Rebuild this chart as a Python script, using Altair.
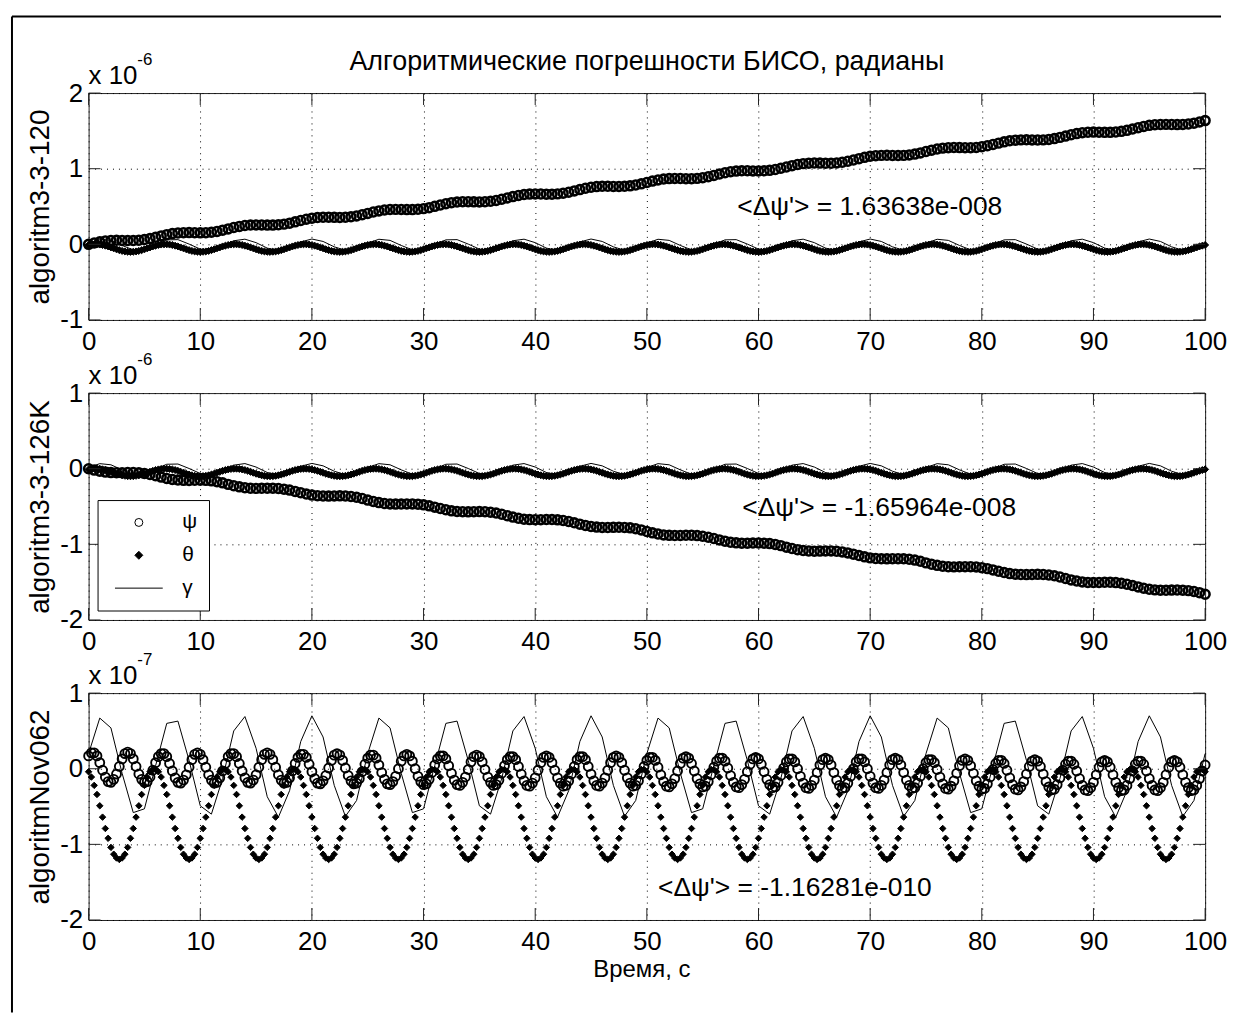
import altair as alt
import numpy as np
import pandas as pd

FONT = "Liberation Sans"
W, H, GAP = 1122, 228, 73.5

SERIES = ["ψ", "θ", "γ"]
TITLE = "Алгоритмические погрешности БИСО, радианы"
XTITLE = "Время,  с"
YTITLES = ["algoritm3-3-120", "algoritm3-3-126K", "algoritmNov062"]
EXPONENTS = ["-6", "-6", "-7"]
ANNOTS = ["<Δψ'> = 1.63638e-008", "<Δψ'> = -1.65964e-008", "<Δψ'> = -1.16281e-010"]
ANNOT_T = [58.1, 58.55, 51.0]
ANNOT_V = [0.385, -0.62, -1.68]
X_TICKS = [0, 10, 20, 30, 40, 50, 60, 70, 80, 90, 100]
Y_TICKS = [[-1, 0, 1, 2], [-2, -1, 0, 1], [-2, -1, 0, 1]]
UNIT = [1000, 1000, 100]          # values below are in 1e-9 rad; axis units 1e-6, 1e-6, 1e-7
STEP_PSI = [0.5, 0.5, 0.25]       # sampling step of psi markers, s
STEP_THETA = 0.25                 # theta markers, s
STEP_GAMMA = 1.0                  # gamma line, s
PSI_STROKE = [2.6, 2.6, 1.9]
THETA_SIZE = [50, 50, 42]

# ---------------- panel 1 : algoritm3-3-120 (1e-9 rad) ----------------
PSI_1 = [
    0, 18, 33, 45, 51, 53, 52, 50, 50, 54, 63, 76, 93, 111, 128, 142, 150, 154, 155, 153, 152, 154, 160, 171, 187,
    204, 222, 237, 249, 255, 257, 256, 254, 254, 258, 267, 280, 297, 315, 332, 346, 354, 358, 359, 357, 356, 358, 364, 375, 391,
    409, 427, 442, 454, 460, 462, 461, 459, 459, 463, 472, 485, 502, 520, 537, 551, 559, 563, 564, 562, 561, 563, 569, 580, 596,
    613, 631, 646, 658, 664, 666, 665, 663, 663, 667, 676, 689, 706, 724, 741, 755, 763, 767, 768, 766, 765, 767, 773, 784, 800,
    818, 836, 851, 863, 869, 871, 870, 868, 868, 872, 881, 894, 911, 929, 946, 960, 968, 972, 973, 971, 970, 972, 978, 989, 1005,
    1022, 1040, 1055, 1067, 1073, 1075, 1074, 1072, 1072, 1076, 1085, 1098, 1115, 1133, 1150, 1164, 1172, 1176, 1177, 1175, 1174, 1176, 1182, 1193, 1209,
    1227, 1245, 1260, 1272, 1278, 1280, 1279, 1277, 1277, 1281, 1290, 1303, 1320, 1338, 1355, 1369, 1377, 1381, 1382, 1380, 1379, 1381, 1387, 1398, 1414,
    1431, 1449, 1464, 1476, 1482, 1484, 1483, 1481, 1481, 1485, 1494, 1507, 1524, 1542, 1559, 1573, 1581, 1585, 1586, 1584, 1583, 1585, 1591, 1602, 1618,
    1636,
]
THETA_1 = [
    -9, -3, 0, 0, -3, -9, -18, -28, -41, -53, -66, -77, -87, -94, -98, -100, -98, -94, -87, -77, -66, -53, -41, -28, -18,
    -9, -3, 0, 0, -3, -9, -18, -28, -41, -53, -66, -77, -87, -94, -98, -100, -98, -94, -87, -77, -66, -53, -41, -28, -18,
    -9, -3, 0, 0, -3, -9, -18, -28, -41, -53, -66, -77, -87, -94, -98, -100, -98, -94, -87, -77, -66, -53, -41, -28, -18,
    -9, -3, 0, 0, -3, -9, -18, -28, -41, -53, -66, -77, -87, -94, -98, -100, -98, -94, -87, -77, -66, -53, -41, -28, -18,
    -9, -3, 0, 0, -3, -9, -18, -28, -41, -53, -66, -77, -87, -94, -98, -100, -98, -94, -87, -77, -66, -53, -41, -28, -18,
    -9, -3, 0, 0, -3, -9, -18, -28, -41, -53, -66, -77, -87, -94, -98, -100, -98, -94, -87, -77, -66, -53, -41, -28, -18,
    -9, -3, 0, 0, -3, -9, -18, -28, -41, -53, -66, -77, -87, -94, -98, -100, -98, -94, -87, -77, -66, -53, -41, -28, -18,
    -9, -3, 0, 0, -3, -9, -18, -28, -41, -53, -66, -77, -87, -94, -98, -100, -98, -94, -87, -77, -66, -53, -41, -28, -18,
    -9, -3, 0, 0, -3, -9, -18, -28, -41, -53, -66, -77, -87, -94, -98, -100, -98, -94, -87, -77, -66, -53, -41, -28, -18,
    -9, -3, 0, 0, -3, -9, -18, -28, -41, -53, -66, -77, -87, -94, -98, -100, -98, -94, -87, -77, -66, -53, -41, -28, -18,
    -9, -3, 0, 0, -3, -9, -18, -28, -41, -53, -66, -77, -87, -94, -98, -100, -98, -94, -87, -77, -66, -53, -41, -28, -18,
    -9, -3, 0, 0, -3, -9, -18, -28, -41, -53, -66, -77, -87, -94, -98, -100, -98, -94, -87, -77, -66, -53, -41, -28, -18,
    -9, -3, 0, 0, -3, -9, -18, -28, -41, -53, -66, -77, -87, -94, -98, -100, -98, -94, -87, -77, -66, -53, -41, -28, -18,
    -9, -3, 0, 0, -3, -9, -18, -28, -41, -53, -66, -77, -87, -94, -98, -100, -98, -94, -87, -77, -66, -53, -41, -28, -18,
    -9, -3, 0, 0, -3, -9, -18, -28, -41, -53, -66, -77, -87, -94, -98, -100, -98, -94, -87, -77, -66, -53, -41, -28, -18,
    -9, -3, 0, 0, -3, -9, -18, -28, -41, -53, -66, -77, -87, -94, -98, -100, -98, -94, -87, -77, -66, -53, -41, -28, -18,
    -9,
]
GAMMA_1 = [
    15, 67, 52, -15, -73, -68, -4, 59, 62, 3, -63, -76, -23, 47, 68, 22, -50, -80, -40, 32, 70, 38, -33, -79, -56,
    15, 67, 52, -15, -73, -68, -4, 59, 62, 3, -63, -76, -23, 47, 68, 22, -50, -80, -40, 32, 70, 38, -33, -79, -56,
    15, 67, 52, -15, -73, -68, -4, 59, 62, 3, -63, -76, -23, 47, 68, 22, -50, -80, -40, 32, 70, 38, -33, -79, -56,
    15, 67, 52, -15, -73, -68, -4, 59, 62, 3, -63, -76, -23, 47, 68, 22, -50, -80, -40, 32, 70, 38, -33, -79, -56,
    15,
]

# ---------------- panel 2 : algoritm3-3-126K (1e-9 rad) ----------------
PSI_2 = [
    0, -18, -33, -45, -51, -53, -52, -50, -50, -54, -63, -76, -93, -111, -128, -142, -150, -154, -155, -153, -152, -154, -160, -171, -187,
    -207, -225, -240, -252, -258, -260, -259, -257, -257, -261, -270, -283, -300, -318, -335, -349, -357, -361, -362, -360, -359, -361, -367, -378, -394,
    -415, -433, -448, -460, -466, -468, -467, -465, -465, -469, -478, -491, -508, -526, -543, -557, -565, -569, -570, -568, -567, -569, -575, -586, -602,
    -622, -640, -655, -667, -673, -675, -674, -672, -672, -676, -685, -698, -715, -733, -750, -764, -772, -776, -777, -775, -774, -776, -782, -793, -809,
    -830, -848, -863, -875, -881, -883, -882, -880, -880, -884, -893, -906, -923, -941, -958, -972, -980, -984, -985, -983, -982, -984, -990, -1001, -1017,
    -1037, -1055, -1070, -1082, -1088, -1090, -1089, -1087, -1087, -1091, -1100, -1113, -1130, -1148, -1165, -1179, -1187, -1191, -1192, -1190, -1189, -1191, -1197, -1208, -1224,
    -1245, -1263, -1278, -1290, -1296, -1298, -1297, -1295, -1295, -1299, -1308, -1321, -1338, -1356, -1373, -1387, -1395, -1399, -1400, -1398, -1397, -1399, -1405, -1416, -1432,
    -1452, -1470, -1485, -1497, -1503, -1505, -1504, -1502, -1502, -1506, -1515, -1528, -1545, -1563, -1580, -1594, -1602, -1606, -1607, -1605, -1604, -1606, -1612, -1623, -1639,
    -1660,
]
THETA_2 = THETA_1      # the theta trace of panel 2 reads the same as in panel 1
GAMMA_2 = GAMMA_1      # the gamma trace of panel 2 reads the same as in panel 1

# ---------------- panel 3 : algoritmNov062 (1e-9 rad) ----------------
PSI_3 = [
    17, 21, 21, 17, 8, -2, -11, -17, -18, -14, -7, 3, 13, 20, 22, 20, 13, 3, -7, -14, -18, -17, -11, -2, 8,
    16, 20, 20, 16, 7, -3, -12, -18, -19, -15, -8, 2, 12, 19, 21, 19, 12, 2, -8, -15, -19, -18, -12, -3, 7,
    16, 20, 20, 16, 7, -3, -12, -18, -19, -15, -8, 2, 12, 19, 21, 19, 12, 2, -8, -15, -19, -18, -12, -3, 7,
    15, 19, 19, 15, 6, -4, -13, -19, -20, -16, -9, 1, 11, 18, 20, 18, 11, 1, -9, -16, -20, -19, -13, -4, 6,
    14, 18, 18, 14, 5, -5, -14, -20, -21, -17, -10, 0, 10, 17, 19, 17, 10, 0, -10, -17, -21, -20, -14, -5, 5,
    13, 17, 17, 13, 4, -6, -15, -21, -22, -18, -11, -1, 9, 16, 18, 16, 9, -1, -11, -18, -22, -21, -15, -6, 4,
    12, 16, 16, 12, 3, -7, -16, -22, -23, -19, -12, -2, 8, 15, 17, 15, 8, -2, -12, -19, -23, -22, -16, -7, 3,
    12, 16, 16, 12, 3, -7, -16, -22, -23, -19, -12, -2, 8, 15, 17, 15, 8, -2, -12, -19, -23, -22, -16, -7, 3,
    11, 15, 15, 11, 2, -8, -17, -23, -24, -20, -13, -3, 7, 14, 16, 14, 7, -3, -13, -20, -24, -23, -17, -8, 2,
    10, 14, 14, 10, 1, -9, -18, -24, -25, -21, -14, -4, 6, 13, 15, 13, 6, -4, -14, -21, -25, -24, -18, -9, 1,
    9, 13, 13, 9, 0, -10, -19, -25, -26, -22, -15, -5, 5, 12, 14, 12, 5, -5, -15, -22, -26, -25, -19, -10, 0,
    9, 13, 13, 9, 0, -10, -19, -25, -26, -22, -15, -5, 5, 12, 14, 12, 5, -5, -15, -22, -26, -25, -19, -10, 0,
    8, 12, 12, 8, -1, -11, -20, -26, -27, -23, -16, -6, 4, 11, 13, 11, 4, -6, -16, -23, -27, -26, -20, -11, -1,
    7, 11, 11, 7, -2, -12, -21, -27, -28, -24, -17, -7, 3, 10, 12, 10, 3, -7, -17, -24, -28, -27, -21, -12, -2,
    6, 10, 10, 6, -3, -13, -22, -28, -29, -25, -18, -8, 2, 9, 11, 9, 2, -8, -18, -25, -29, -28, -22, -13, -3,
    6, 10, 10, 6, -3, -13, -22, -28, -29, -25, -18, -8, 2, 9, 11, 9, 2, -8, -18, -25, -29, -28, -22, -13, -3,
    5,
]
THETA_3 = [
    -4, -11, -22, -34, -49, -64, -79, -92, -104, -113, -118, -120, -118, -113, -104, -92, -79, -64, -49, -34, -22, -11, -4, -1, -1,
    -4, -11, -22, -34, -49, -64, -79, -92, -104, -113, -118, -120, -118, -113, -104, -92, -79, -64, -49, -34, -22, -11, -4, -1, -1,
    -4, -11, -22, -34, -49, -64, -79, -92, -104, -113, -118, -120, -118, -113, -104, -92, -79, -64, -49, -34, -22, -11, -4, -1, -1,
    -4, -11, -22, -34, -49, -64, -79, -92, -104, -113, -118, -120, -118, -113, -104, -92, -79, -64, -49, -34, -22, -11, -4, -1, -1,
    -4, -11, -22, -34, -49, -64, -79, -92, -104, -113, -118, -120, -118, -113, -104, -92, -79, -64, -49, -34, -22, -11, -4, -1, -1,
    -4, -11, -22, -34, -49, -64, -79, -92, -104, -113, -118, -120, -118, -113, -104, -92, -79, -64, -49, -34, -22, -11, -4, -1, -1,
    -4, -11, -22, -34, -49, -64, -79, -92, -104, -113, -118, -120, -118, -113, -104, -92, -79, -64, -49, -34, -22, -11, -4, -1, -1,
    -4, -11, -22, -34, -49, -64, -79, -92, -104, -113, -118, -120, -118, -113, -104, -92, -79, -64, -49, -34, -22, -11, -4, -1, -1,
    -4, -11, -22, -34, -49, -64, -79, -92, -104, -113, -118, -120, -118, -113, -104, -92, -79, -64, -49, -34, -22, -11, -4, -1, -1,
    -4, -11, -22, -34, -49, -64, -79, -92, -104, -113, -118, -120, -118, -113, -104, -92, -79, -64, -49, -34, -22, -11, -4, -1, -1,
    -4, -11, -22, -34, -49, -64, -79, -92, -104, -113, -118, -120, -118, -113, -104, -92, -79, -64, -49, -34, -22, -11, -4, -1, -1,
    -4, -11, -22, -34, -49, -64, -79, -92, -104, -113, -118, -120, -118, -113, -104, -92, -79, -64, -49, -34, -22, -11, -4, -1, -1,
    -4, -11, -22, -34, -49, -64, -79, -92, -104, -113, -118, -120, -118, -113, -104, -92, -79, -64, -49, -34, -22, -11, -4, -1, -1,
    -4, -11, -22, -34, -49, -64, -79, -92, -104, -113, -118, -120, -118, -113, -104, -92, -79, -64, -49, -34, -22, -11, -4, -1, -1,
    -4, -11, -22, -34, -49, -64, -79, -92, -104, -113, -118, -120, -118, -113, -104, -92, -79, -64, -49, -34, -22, -11, -4, -1, -1,
    -4, -11, -22, -34, -49, -64, -79, -92, -104, -113, -118, -120, -118, -113, -104, -92, -79, -64, -49, -34, -22, -11, -4, -1, -1,
    -4,
]
GAMMA_3 = [
    20, 67, 54, -6, -58, -53, 4, 60, 63, 11, -49, -60, -13, 50, 69, 27, -37, -64, -29, 36, 70, 42, -22, -63, -42,
    20, 67, 54, -6, -58, -53, 4, 60, 63, 11, -49, -60, -13, 50, 69, 27, -37, -64, -29, 36, 70, 42, -22, -63, -42,
    20, 67, 54, -6, -58, -53, 4, 60, 63, 11, -49, -60, -13, 50, 69, 27, -37, -64, -29, 36, 70, 42, -22, -63, -42,
    20, 67, 54, -6, -58, -53, 4, 60, 63, 11, -49, -60, -13, 50, 69, 27, -37, -64, -29, 36, 70, 42, -22, -63, -42,
    20,
]

DATA = [(PSI_1, THETA_1, GAMMA_1), (PSI_2, THETA_2, GAMMA_2), (PSI_3, THETA_3, GAMMA_3)]

shape_sc = alt.Scale(domain=SERIES, range=["circle", "diamond", "M-6,0H6"])
fill_sc = alt.Scale(domain=SERIES, range=["transparent", "black", "transparent"])
stroke_sc = alt.Scale(domain=SERIES, range=["black", "black", "black"])


def frame(values, step, name, unit):
    return pd.DataFrame({
        "t": np.arange(len(values)) * step,
        "v": np.array(values, dtype=float) / unit,
        "s": name,
    })


def panel(i):
    psi, theta, gamma = DATA[i]
    u = UNIT[i]
    d_psi = frame(psi, STEP_PSI[i], SERIES[0], u)
    d_th = frame(theta, STEP_THETA, SERIES[1], u)
    d_ga = frame(gamma, STEP_GAMMA, SERIES[2], u)

    xs = alt.Scale(domain=[0, 100], nice=False, zero=False)
    ys = alt.Scale(domain=[Y_TICKS[i][0], Y_TICKS[i][-1]], nice=False, zero=False)
    common = dict(grid=True, gridColor="#000", gridDash=[1, 5], gridOpacity=1, gridWidth=1,
                  domain=False, ticks=False, labelFont=FONT, labelFontSize=26, labelColor="#000",
                  labelFlush=False, labelOverlap=False, labelExpr="datum.value")
    xaxis = alt.Axis(values=X_TICKS, labelPadding=9, title=None, **common)
    yaxis = alt.Axis(values=Y_TICKS[i], labelPadding=6, title=YTITLES[i], titleFont=FONT,
                     titleFontSize=28, titleFontWeight="normal", titleColor="#000",
                     titlePadding=5, **common)
    X = alt.X("t:Q", scale=xs, axis=xaxis)
    Y = alt.Y("v:Q", scale=ys, axis=yaxis)

    if i == 1:
        leg = alt.Legend(title=None, orient="none", legendX=9, legendY=107.5,
                         fillColor="white", strokeColor="black", padding=12,
                         symbolOffset=19, labelOffset=33, rowPadding=11,
                         labelFont=FONT, labelFontSize=21, labelColor="black",
                         symbolSize=64, symbolStrokeWidth=1,
                         labelExpr="datum.label + '\u00a0\u00a0\u00a0'")
    else:
        leg = None

    enc = dict(
        shape=alt.Shape("s:N", scale=shape_sc, legend=leg),
        fill=alt.Fill("s:N", scale=fill_sc, legend=leg),
        stroke=alt.Stroke("s:N", scale=stroke_sc, legend=leg),
    )
    l_psi = alt.Chart(d_psi).mark_point(size=80, strokeWidth=PSI_STROKE[i], opacity=1).encode(x=X, y=Y, **enc)
    l_th = alt.Chart(d_th).mark_point(size=THETA_SIZE[i], strokeWidth=1, opacity=1).encode(x=X, y=Y, **enc)
    l_ga = alt.Chart(d_ga).mark_line(strokeWidth=1).encode(
        x=X, y=Y, stroke=alt.Stroke("s:N", scale=stroke_sc, legend=leg))

    d_xt = pd.DataFrame({"t": X_TICKS})
    d_yt = pd.DataFrame({"v": Y_TICKS[i]})
    rule = dict(color="#222", strokeWidth=1)
    tx1 = alt.Chart(d_xt).mark_rule(**rule).encode(x=X, y=alt.value(0), y2=alt.value(12))
    tx2 = alt.Chart(d_xt).mark_rule(**rule).encode(x=X, y=alt.value(H - 12), y2=alt.value(H))
    ty1 = alt.Chart(d_yt).mark_rule(**rule).encode(y=Y, x=alt.value(0), x2=alt.value(12))
    ty2 = alt.Chart(d_yt).mark_rule(**rule).encode(y=Y, x=alt.value(W - 12), x2=alt.value(W))

    one = pd.DataFrame({"k": [0]})
    e1 = alt.Chart(one).mark_text(text="x 10", align="left", baseline="alphabetic", font=FONT,
                                  fontSize=26, color="black").encode(x=alt.value(0), y=alt.value(-9))
    e2 = alt.Chart(one).mark_text(text=EXPONENTS[i], align="left", baseline="alphabetic", font=FONT,
                                  fontSize=17, color="black").encode(x=alt.value(49), y=alt.value(-28))
    d_ann = pd.DataFrame({"t": [ANNOT_T[i]], "v": [ANNOT_V[i]], "label": [ANNOTS[i]]})
    ann = alt.Chart(d_ann).mark_text(align="left", baseline="alphabetic", font=FONT, fontSize=26.5,
                                     color="black").encode(x=X, y=Y, text="label:N")

    layers = [l_psi, l_th, l_ga, tx1, tx2, ty1, ty2, e1, e2, ann]
    if i == 0:
        layers.append(alt.Chart(one).mark_text(text=TITLE, align="center", baseline="alphabetic",
                                               font=FONT, fontSize=27, color="black")
                      .encode(x=alt.value(W / 2), y=alt.value(-23)))
        layers.append(alt.Chart(one).mark_rule(color="black", strokeWidth=2)
                      .encode(x=alt.value(-77), y=alt.value(-77), y2=alt.value(924)))
        layers.append(alt.Chart(one).mark_rule(color="black", strokeWidth=2)
                      .encode(x=alt.value(-77), x2=alt.value(1138), y=alt.value(-77)))
    if i == 2:
        layers.append(alt.Chart(one).mark_text(text=XTITLE, align="center", baseline="alphabetic",
                                               font=FONT, fontSize=24, color="black")
                      .encode(x=alt.value(556), y=alt.value(285)))
    return alt.layer(*layers).properties(width=W, height=H)


chart = (
    alt.vconcat(panel(0), panel(1), panel(2), spacing=GAP, bounds="flush")
    .resolve_scale(shape="independent", fill="independent", stroke="independent")
    .properties(padding={"left": 2, "top": 4, "right": 0, "bottom": 0}, background="white")
    .configure_view(stroke="#222", strokeWidth=1)
)

chart.save("out.html", embed_options={"renderer": "svg", "actions": False})
